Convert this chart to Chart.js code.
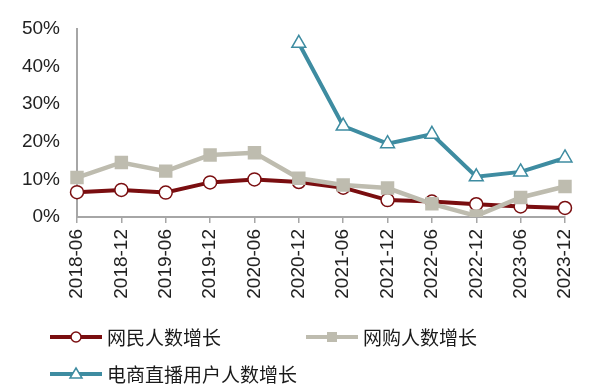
<!DOCTYPE html>
<html>
<head>
<meta charset="utf-8">
<script src="https://cdn.jsdelivr.net/npm/chart.js@4/dist/chart.umd.min.js"></script>
<style>
html,body{margin:0;padding:0;background:#fff;}
#wrap{width:600px;height:389px;position:relative;}
</style>
</head>
<body>
<div id="wrap"><canvas id="c" width="600" height="389"></canvas></div>
<script>
const categories = ['2018-06','2018-12','2019-06','2019-12','2020-06','2020-12','2021-06','2021-12','2022-06','2022-12','2023-06','2023-12'];
const netizenGrowth = [6.6, 7.2, 6.5, 9.2, 10.0, 9.3, 7.8, 4.5, 4.1, 3.4, 2.8, 2.4];
const shopperGrowth = [10.5, 14.5, 12.2, 16.5, 17.1, 10.3, 8.5, 7.7, 3.5, 0.3, 5.2, 8.1];
const liveCommerceGrowth = [null, null, null, null, null, 46.2, 24.2, 19.5, 22.0, 10.7, 12.0, 15.7];
const seriesNames = ['网民人数增长', '网购人数增长', '电商直播用户人数增长'];
const yTicks = [0, 10, 20, 30, 40, 50];

const RED = '#7A0E10', GRAY = '#BEBCAF', TEAL = '#3E8CA1';
const tickFont = {family: 'Liberation Sans', size: 19};

const legendPlugin = {
  id: 'customLegend',
  afterDraw(chart) {
    const ctx = chart.ctx;
    const spots = [[50, 337], [306, 337], [50, 374]];
    chart.data.datasets.forEach((ds, i) => {
      const [x, y] = spots[i];
      ctx.save();
      ctx.strokeStyle = ds.borderColor;
      ctx.lineWidth = 4;
      ctx.beginPath(); ctx.moveTo(x, y); ctx.lineTo(x + 52, y); ctx.stroke();
      const cx = x + 26;
      ctx.lineWidth = 1.5;
      if (ds.pointStyle === 'circle') {
        ctx.fillStyle = '#fff'; ctx.strokeStyle = ds.borderColor;
        ctx.beginPath(); ctx.arc(cx, y, 5, 0, Math.PI * 2); ctx.fill(); ctx.stroke();
      } else if (ds.pointStyle === 'rect') {
        ctx.fillStyle = ds.pointBackgroundColor;
        ctx.fillRect(cx - 5, y - 5, 10, 10);
      } else {
        ctx.fillStyle = '#fff'; ctx.strokeStyle = ds.borderColor;
        ctx.beginPath(); ctx.moveTo(cx, y - 6); ctx.lineTo(cx + 6, y + 4); ctx.lineTo(cx - 6, y + 4); ctx.closePath(); ctx.fill(); ctx.stroke();
      }
      ctx.fillStyle = '#1a1a1a';
      ctx.font = '19px "Noto Sans CJK SC"';
      ctx.textBaseline = 'middle';
      ctx.textAlign = 'left';
      ctx.fillText(ds.label, x + 57, y + 1);
      ctx.restore();
    });
  }
};

new Chart(document.getElementById('c'), {
  type: 'line',
  data: {
    labels: categories,
    datasets: [
      {label: seriesNames[0], data: netizenGrowth, borderColor: RED, backgroundColor: RED, borderWidth: 4,
       pointStyle: 'circle', pointRadius: 6.5, pointBackgroundColor: '#fff', pointBorderColor: RED, pointBorderWidth: 1.5, order: 2},
      {label: seriesNames[1], data: shopperGrowth, borderColor: GRAY, backgroundColor: GRAY, borderWidth: 4.5,
       pointStyle: 'rect', pointRadius: 9.5, pointBackgroundColor: GRAY, pointBorderColor: GRAY, pointBorderWidth: 0, order: 1},
      {label: seriesNames[2], data: liveCommerceGrowth, borderColor: TEAL, backgroundColor: TEAL, borderWidth: 4,
       pointStyle: 'triangle', pointRadius: 8, pointBackgroundColor: '#fff', pointBorderColor: TEAL, pointBorderWidth: 1.5, order: 0}
    ]
  },
  options: {
    responsive: false,
    animation: false,
    layout: {padding: {top: 29, right: 35, bottom: 84, left: 0}},
    plugins: {legend: {display: false}, tooltip: {enabled: false}},
    scales: {
      x: {
        offset: false,
        grid: {drawOnChartArea: false, drawTicks: true, tickLength: 6, color: '#A6A6A6', lineWidth: 1.5},
        border: {display: true, color: '#A6A6A6', width: 2},
        ticks: {font: tickFont, color: '#222', minRotation: 90, maxRotation: 90, padding: 6, autoSkip: false},
        afterFit(s) { s.height = 88; }
      },
      y: {
        min: 0, max: 50,
        afterBuildTicks(s) { s.ticks = yTicks.map(v => ({value: v})); },
        grid: {display: false, drawTicks: false},
        border: {display: true, color: '#A6A6A6', width: 2},
        ticks: {font: tickFont, color: '#222', padding: 17, callback: v => v + '%'},
        afterFit(s) { s.width = 77; }
      }
    }
  },
  plugins: [legendPlugin]
});
</script>
</body>
</html>
